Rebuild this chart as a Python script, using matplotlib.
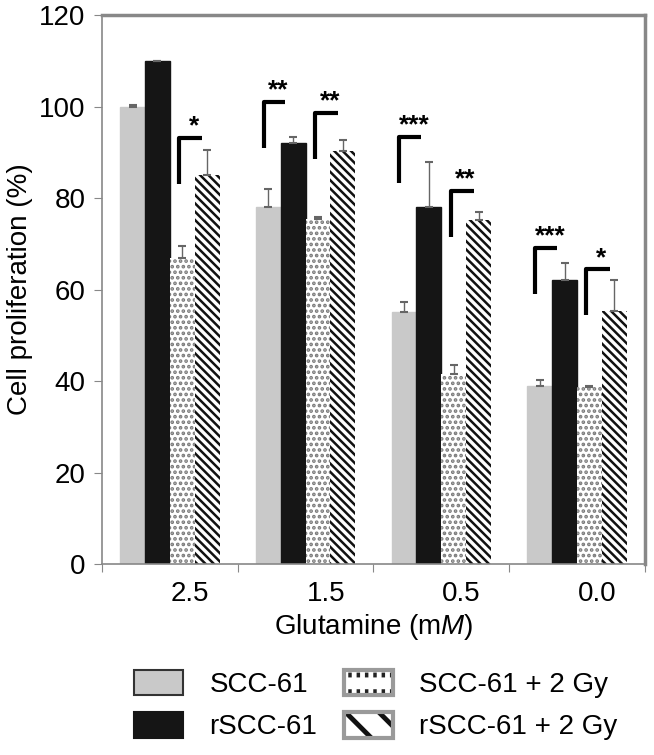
import numpy as np
import matplotlib
matplotlib.use("Agg")
import matplotlib.pyplot as plt
from matplotlib.patches import Patch
from matplotlib.legend_handler import HandlerTuple

plt.rcParams['font.family'] = ['Liberation Sans', 'DejaVu Sans']
plt.rcParams['mathtext.fontset'] = 'custom'
plt.rcParams['mathtext.rm'] = 'Liberation Sans'
plt.rcParams['mathtext.it'] = 'Liberation Sans:italic'
plt.rcParams['hatch.linewidth'] = 1.8

# data
glutamine = ['2.5', '1.5', '0.5', '0.0']
series = ['SCC-61', 'rSCC-61', 'SCC-61 + 2 Gy', 'rSCC-61 + 2 Gy']
scc = [100, 78, 55, 39]
scc_err = [0.3, 4.0, 2.2, 1.3]
rscc = [110, 92, 78, 62]
rscc_err = [0.0, 1.3, 9.8, 3.8]
scc_gy = [67, 75.4, 41.5, 38.6]
scc_gy_err = [2.5, 0.4, 2.0, 0.3]
rscc_gy = [85, 90.3, 75.3, 55.3]
rscc_gy_err = [5.5, 2.3, 1.7, 6.8]

# significance brackets: top of bracket and stars, per group
sig_pair1_top = [None, 101, 93.3, 69.1]
sig_pair1_txt = [None, '**', '***', '***']
sig_pair2_top = [93.1, 98.6, 81.5, 64.4]
sig_pair2_txt = ['*', '**', '**', '*']

fig = plt.figure(figsize=(6.54, 7.55), dpi=100)
ax = fig.add_axes([0.156, 0.253, 0.83, 0.727])

x = np.arange(len(glutamine))
w = 0.183
styles = [
    dict(color='#c9c9c9', edgecolor='#c9c9c9'),
    dict(color='#151515', edgecolor='#151515'),
    dict(facecolor='white', edgecolor='#7a7a7a', hatch='...', linewidth=0),
    dict(facecolor='white', edgecolor='#111111', hatch='\\\\\\\\', linewidth=0),
]
vals = [scc, rscc, scc_gy, rscc_gy]
errs = [scc_err, rscc_err, scc_gy_err, rscc_gy_err]

for i, (v, e, st) in enumerate(zip(vals, errs, styles)):
    pos = x + (i - 1.5) * w
    ax.bar(pos, v, w, **st)
    ax.errorbar(pos, v, yerr=[np.zeros(len(e)), e], fmt='none',
                ecolor='#666666', elinewidth=1.0, capsize=3, capthick=1.5)

# brackets
bh = 10
for g in range(len(glutamine)):
    if sig_pair1_top[g] is not None:
        t = sig_pair1_top[g]
        ax.plot([g - 0.31, g - 0.31, g - 0.15], [t - bh, t, t],
                color='black', lw=3, solid_capstyle='butt')
        ax.text(g - 0.2, t - 0.1, sig_pair1_txt[g], ha='center', va='bottom',
                fontsize=19, fontweight='bold')
    t = sig_pair2_top[g]
    ax.plot([g + 0.07, g + 0.07, g + 0.24], [t - bh, t, t],
            color='black', lw=3, solid_capstyle='butt')
    ax.text(g + 0.18, t - 0.1, sig_pair2_txt[g], ha='center', va='bottom',
            fontsize=19, fontweight='bold')

ax.set_xlim(-0.5, 3.5)
ax.set_ylim(0, 120)
ax.set_yticks(range(0, 121, 20))
ax.set_xticks(np.arange(-0.5, 4, 1))
ax.set_xticklabels([])
ax.set_xticks(x + 0.15, minor=True)
ax.set_xticklabels(glutamine, minor=True)
ax.tick_params(axis='x', which='minor', length=0, pad=12, labelsize=20)
ax.tick_params(axis='x', which='major', length=6, color='#888888')
ax.tick_params(axis='y', length=6, color='#888888', labelsize=20, pad=6)
for s in ax.spines.values():
    s.set_color('#888888')
    s.set_linewidth(1.2)
ax.spines['top'].set_linewidth(2.5)
ax.spines['right'].set_linewidth(2.5)

ax.set_ylabel('Cell proliferation (%)', fontsize=20, labelpad=4)
ax.set_xlabel('Glutamine (m$\\it{M}$)', fontsize=20, labelpad=4)

plt.rcParams['hatch.linewidth'] = 3.5
border = dict(facecolor='none', edgecolor='#9a9a9a', linewidth=3)
handles = [
    Patch(facecolor='#c9c9c9', edgecolor='#333333', linewidth=1.5),
    Patch(facecolor='#151515', edgecolor='#151515', linewidth=1.5),
    (Patch(facecolor='white', edgecolor='#222222', hatch='-', linewidth=0),
     Patch(facecolor='none', edgecolor='white', hatch='||', linewidth=0),
     Patch(**border)),
    (Patch(facecolor='white', edgecolor='#111111', hatch='\\', linewidth=0),
     Patch(**border)),
]
leg = fig.legend(handles, series, ncol=2, loc='upper left',
                 bbox_to_anchor=(0.205, 0.113), frameon=False, fontsize=20,
                 handlelength=1.76, handleheight=1.05, columnspacing=0.95,
                 handletextpad=0.95, labelspacing=0.5, borderpad=0,
                 borderaxespad=0,
                 handler_map={tuple: HandlerTuple(ndivide=1, pad=0)})

fig.savefig('out.png', dpi=100)
